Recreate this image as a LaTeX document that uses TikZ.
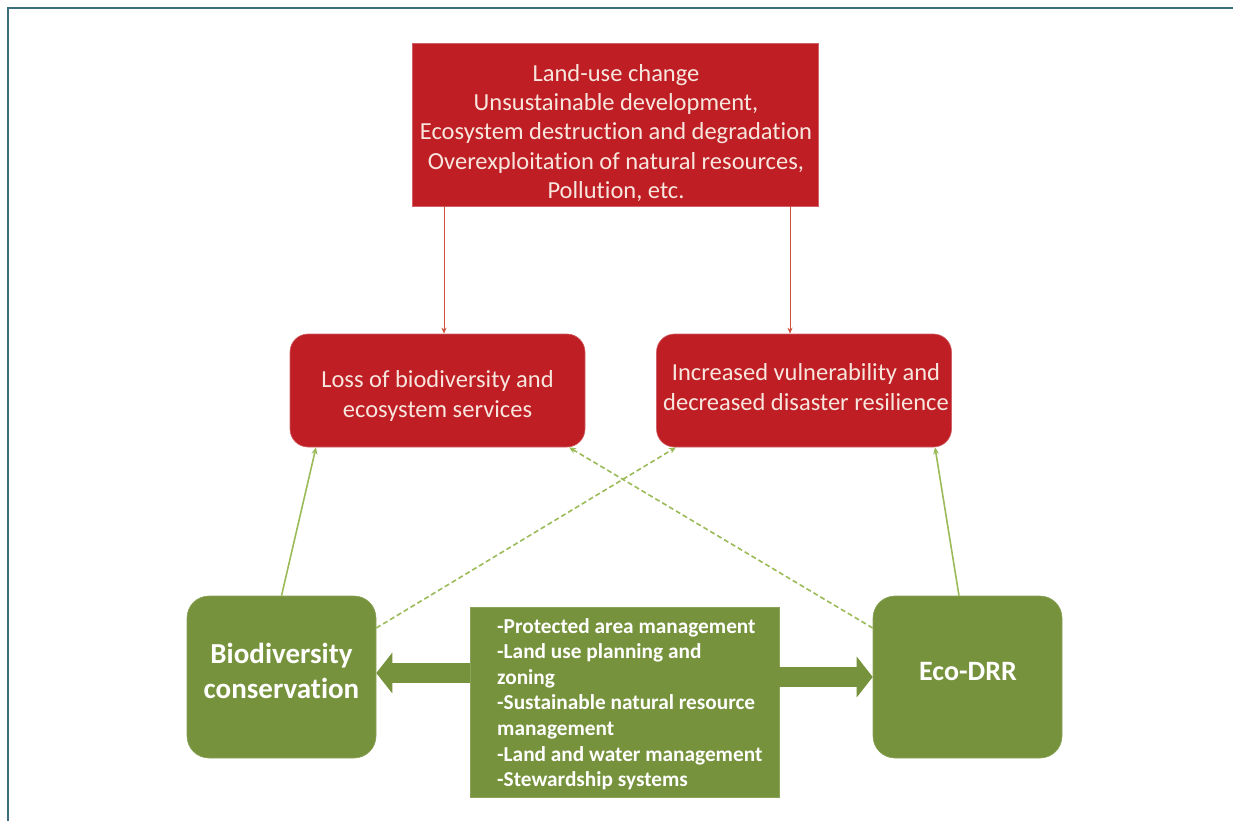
\documentclass[tikz,border=0pt]{standalone}
\usepackage{fontspec}
\setmainfont{Carlito}[Ligatures=NoCommon]
\usetikzlibrary{arrows.meta,calc}
\definecolor{boxred}{HTML}{BE1E24}
\definecolor{redline}{HTML}{D0503C}
\definecolor{boxgreen}{HTML}{76923C}
\definecolor{greenline}{HTML}{9BBB59}
\definecolor{frameteal}{HTML}{3D6E80}
\definecolor{paletext}{HTML}{F8E6DE}
\tikzset{
  redbox/.style={fill=boxred, draw=boxred!70!white, line width=0.6pt, inner sep=0pt},
  greenbox/.style={fill=boxgreen, draw=boxgreen!85!white, line width=0.6pt, inner sep=0pt,
    rounded corners=22pt, minimum width=189pt, minimum height=162pt},
  redtext/.style={text=paletext, align=center, font=\fontsize{24.5}{29.3}\selectfont},
  greentext/.style={text=white, align=center, font=\fontsize{29}{35}\selectfont\bfseries},
  redarrow/.style={draw=redline, line width=1pt, -{Stealth[length=6pt,width=5pt]}},
  greenarrow/.style={draw=greenline, line width=1.6pt, -{Stealth[length=7pt,width=6pt]}},
  greendash/.style={greenarrow, dash pattern=on 5pt off 3pt},
  bigarrow/.style={draw=boxgreen, line width=20pt, -{Triangle[length=16pt,width=40pt]}}
}
\begin{document}
\begin{tikzpicture}[x=1pt,y=-1pt]
  \useasboundingbox (0,0) rectangle (1233,821);
  % page frame
  \draw[frameteal, line width=1.6pt] (8,821) -- (8,8) -- (1233,8);

  % drivers
  \node[redbox, minimum width=406pt, minimum height=163pt] (drivers) at (615,124.5) {};
  \node[redtext] (drvtext) at (616,133)
    {Land-use change\\ Unsustainable development,\\ Ecosystem destruction and degradation\\ Overexploitation of natural resources,\\ Pollution, etc.};

  % impacts
  \node[redbox, rounded corners=18pt, minimum width=295pt, minimum height=113pt] (loss) at (437.5,390.5) {};
  \node[redtext] (losstext) at (437.5,396)
    {Loss of biodiversity and\\ ecosystem services};
  \node[redbox, rounded corners=18pt, minimum width=295pt, minimum height=113pt] (vuln) at (804,390.5) {};
  \node[redtext] (vulntext) at (806,387)
    {Increased vulnerability and\\ decreased disaster resilience};

  % responses
  \node[greenbox] (bio) at (281.5,677) {};
  \node[greentext] (biotext) at (281.5,671)
    {Biodiversity\\ conservation};
  \node[greenbox] (eco) at (967.5,677) {};
  \node[greentext, font=\fontsize{28}{35}\selectfont\bfseries] (ecotext) at (968,672) {Eco-DRR};

  % shared measures
  \node[fill=boxgreen, draw=boxgreen!85!white, line width=0.6pt, minimum width=309pt, minimum height=190pt, inner sep=0pt] (mid) at (624.5,702) {};
  \node[anchor=north west, text=white, align=left, inner sep=0pt,
        font=\fontsize{21.3}{25.6}\selectfont\bfseries] (midtext) at (497,618)
    {-Protected area management\\ -Land use planning and\\ zoning\\ -Sustainable natural resource\\ management\\ -Land and water management\\ -Stewardship systems};

  % drivers to impacts
  \path ([xshift=-171pt]drivers.south) coordinate (d1) ([xshift=175pt]drivers.south) coordinate (d2);
  \draw[redarrow] (d1) -- (d1 |- loss.north);
  \draw[redarrow] (d2) -- (d2 |- vuln.north);

  % responses to impacts
  \draw[greenarrow] (bio.north) -- ([xshift=-121.5pt]loss.south);
  \draw[greenarrow] ([xshift=-8.5pt]eco.north) -- ([xshift=131pt]vuln.south);
  \draw[greendash] ([yshift=49pt]bio.east) -- ([xshift=-128pt]vuln.south);
  \draw[greendash] ([yshift=49pt]eco.west) -- ([xshift=131.5pt]loss.south);

  % measures feeding both responses
  \path ([yshift=29pt]mid.west) coordinate (m1) ([yshift=25pt]mid.east) coordinate (m2);
  \draw[bigarrow] (m1) -- (m1 -| bio.east);
  \draw[bigarrow] (m2) -- (m2 -| eco.west);
\end{tikzpicture}
\end{document}
